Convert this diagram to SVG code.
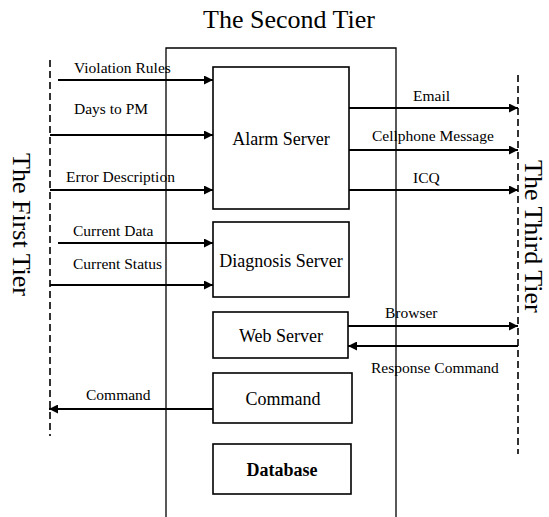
<svg xmlns="http://www.w3.org/2000/svg" width="549" height="517" viewBox="0 0 549 517">
<style>
  .t{font-family:"Liberation Serif","Times New Roman",serif;fill:#000}
  .big{font-size:26px}
  .node{font-size:18px;text-anchor:middle}
  .lbl{font-size:15.5px}
  .box{fill:#fff;stroke:#000;stroke-width:1.6}
  .con{stroke:#000;stroke-width:1.8;fill:none}
  .thin{stroke:#000;stroke-width:1.3;fill:none}
  .dash{stroke:#000;stroke-width:1.6;stroke-dasharray:7 4;fill:none}
</style>
<defs>
  <marker id="ah" viewBox="0 0 10 10" refX="10" refY="5" markerWidth="6" markerHeight="5" markerUnits="strokeWidth" orient="auto">
    <path d="M0,0 L10,5 L0,10 z" fill="#000"/>
  </marker>
</defs>
<rect width="549" height="517" fill="#fff"/>

<g id="tiers">
  <text class="t big" x="203" y="28" font-size="27">The Second Tier</text>
  <text class="t big" transform="translate(13,153) rotate(90)">The First Tier</text>
  <text class="t big" transform="translate(525,160) rotate(90)">The Third Tier</text>
  <path class="thin" d="M166,517 V48 H396 V517"/>
  <line class="dash" x1="50" y1="60" x2="50" y2="436"/>
  <line class="dash" x1="518" y1="75" x2="518" y2="454"/>
</g>

<g id="connectors">
  <line class="con" x1="58" y1="80" x2="213" y2="80" marker-end="url(#ah)"/>
  <line class="con" x1="50" y1="135" x2="213" y2="135" marker-end="url(#ah)"/>
  <line class="con" x1="50" y1="190" x2="213" y2="190" marker-end="url(#ah)"/>
  <line class="con" x1="58" y1="243" x2="213" y2="243" marker-end="url(#ah)"/>
  <line class="con" x1="50" y1="285" x2="213" y2="285" marker-end="url(#ah)"/>
  <line class="con" x1="213" y1="409" x2="49" y2="409" marker-end="url(#ah)"/>
  <line class="con" x1="349" y1="108" x2="518" y2="108" marker-end="url(#ah)"/>
  <line class="con" x1="349" y1="150" x2="518" y2="150" marker-end="url(#ah)"/>
  <line class="con" x1="349" y1="190" x2="518" y2="190" marker-end="url(#ah)"/>
  <line class="con" x1="348" y1="326" x2="518" y2="326" marker-end="url(#ah)"/>
  <line class="con" x1="518" y1="346" x2="348" y2="346" marker-end="url(#ah)"/>
  <text class="t lbl" x="74" y="73">Violation Rules</text>
  <text class="t lbl" x="74" y="114">Days to PM</text>
  <text class="t lbl" x="66" y="182">Error Description</text>
  <text class="t lbl" x="73" y="236">Current Data</text>
  <text class="t lbl" x="73" y="269">Current Status</text>
  <text class="t lbl" x="86" y="400">Command</text>
  <text class="t lbl" x="413" y="101">Email</text>
  <text class="t lbl" x="372" y="141">Cellphone Message</text>
  <text class="t lbl" x="413" y="183">ICQ</text>
  <text class="t lbl" x="385" y="318">Browser</text>
  <text class="t lbl" x="371" y="373">Response Command</text>
</g>

<g id="alarm-server">
  <rect class="box" x="213" y="67" width="136" height="142"/>
  <text class="t node" x="281" y="145">Alarm Server</text>
</g>
<g id="diagnosis-server">
  <rect class="box" x="213" y="222" width="136" height="75"/>
  <text class="t node" x="281" y="267">Diagnosis Server</text>
</g>
<g id="web-server">
  <rect class="box" x="213" y="312" width="135" height="46"/>
  <text class="t node" x="281" y="342">Web Server</text>
</g>
<g id="command">
  <rect class="box" x="213" y="373" width="139" height="50"/>
  <text class="t node" x="283" y="405">Command</text>
</g>
<g id="database">
  <rect class="box" x="213" y="444" width="138" height="50"/>
  <text class="t node" x="282" y="476" font-weight="bold">Database</text>
</g>
</svg>
